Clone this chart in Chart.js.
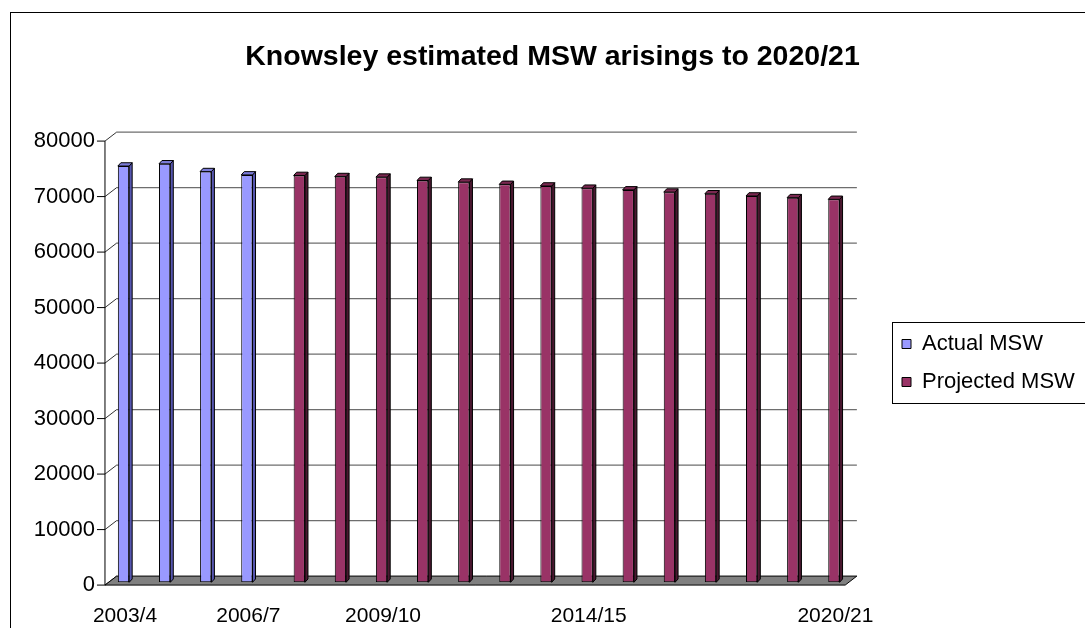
<!DOCTYPE html>
<html>
<head>
<meta charset="utf-8">
<script src="https://cdn.jsdelivr.net/npm/chart.js@4.4.0/dist/chart.umd.min.js"></script>
<style>
html,body{margin:0;padding:0;background:#fff;}
canvas{display:block;}
</style>
</head>
<body>
<canvas id="c" width="1085" height="628"></canvas>
<script>
// ---- data ----
const categories = ['2003/4','2004/5','2005/6','2006/7','2007/8','2008/9','2009/10','2010/11','2011/12',
  '2012/13','2013/14','2014/15','2015/16','2016/17','2017/18','2018/19','2019/20','2020/21'];
const shownLabels = ['2003/4','2006/7','2009/10','2014/15','2020/21'];
const actualMSW = [75000, 75400, 74000, 73400, null, null, null, null, null,
  null, null, null, null, null, null, null, null, null];
const projectedMSW = [null, null, null, null, 73300, 73100, 73000, 72400, 72100,
  71700, 71400, 71000, 70700, 70300, 70000, 69600, 69300, 69000];
const yTickValues = [0, 10000, 20000, 30000, 40000, 50000, 60000, 70000, 80000];
const seriesNames = ['Actual MSW', 'Projected MSW'];
const titleText = 'Knowsley estimated MSW arisings to 2020/21';

// ---- styling ----
const FONT = "'Liberation Sans', Arial, sans-serif";
Chart.defaults.font.family = FONT;
Chart.defaults.color = '#000';

const DEPTH = {dx: 11.7, dy: -9};   // front plane -> back wall
const F = 0.31;                      // bar plane position inside depth
const BAR_D = {dx: 3, dy: -3.3};     // bar thickness
const FACE = [
  {side: '#5656b0', top: '#7b7bd8'},
  {side: '#4a1830', top: '#7a2850'}
];

const decor = {
  id: 'decor',
  beforeDraw(chart) {
    const ctx = chart.ctx;
    ctx.save();
    ctx.fillStyle = '#fff';
    ctx.fillRect(0, 0, chart.width, chart.height);
    ctx.strokeStyle = '#000';
    ctx.lineWidth = 1;
    ctx.strokeRect(10.5, 12.5, chart.width + 40, chart.height + 40);
    ctx.strokeRect(892.5, 322.5, 300, 81);
    ctx.restore();
    // centre each category label on the bar that carries its value (as in the 3D original)
    const xs = chart.scales.x;
    const items = xs.getLabelItems(chart.chartArea);
    items.forEach((it, k) => {
      const idx = xs.ticks[k] ? xs.ticks[k].value : k;
      for (let d = 0; d < chart.data.datasets.length; d++) {
        if (chart.data.datasets[d].data[idx] != null) {
          const el = chart.getDatasetMeta(d).data[idx];
          if (el) it.options.translation[0] = el.x + BAR_D.dx / 2;
          break;
        }
      }
    });
  },
  afterLayout(chart) {
    const t = chart.titleBlock;
    if (t) { t.left = 20; t.right = 1085; }
    const lg = chart.legend;
    if (lg) { lg.left = 886; lg.right = 1085; lg.top = 317; lg.bottom = 420; lg.width = 199; lg.height = 103; }
  },
  beforeDatasetsDraw(chart) {
    const {ctx, chartArea: a, scales: {y}} = chart;
    const fx = -F * DEPTH.dx, fy = -F * DEPTH.dy;
    const bx = (1 - F) * DEPTH.dx, by = (1 - F) * DEPTH.dy;
    const L = a.left, R = a.right;
    const y0 = y.getPixelForValue(0);
    ctx.save();
    ctx.lineWidth = 1;
    yTickValues.forEach(v => {
      const py = y.getPixelForValue(v);
      if (v > 0) {
        ctx.strokeStyle = '#6e6e6e';
        ctx.lineWidth = 1.3;
        ctx.beginPath();
        ctx.moveTo(L + bx, py + by);
        ctx.lineTo(R + bx, py + by);
        ctx.stroke();
        ctx.lineWidth = 1;
      }
      ctx.strokeStyle = '#333';
      ctx.beginPath();
      ctx.moveTo(L + fx, py + fy);
      ctx.lineTo(L + bx, py + by);
      ctx.stroke();
      ctx.strokeStyle = '#000';
      ctx.beginPath();
      ctx.moveTo(L + fx - 8, py + fy);
      ctx.lineTo(L + fx, py + fy);
      ctx.stroke();
    });
    // floor
    ctx.beginPath();
    ctx.moveTo(L + fx, y0 + fy);
    ctx.lineTo(R + fx, y0 + fy);
    ctx.lineTo(R + bx, y0 + by);
    ctx.lineTo(L + bx, y0 + by);
    ctx.closePath();
    ctx.fillStyle = '#808080';
    ctx.fill();
    ctx.strokeStyle = '#000';
    ctx.stroke();
    // front value axis
    ctx.beginPath();
    ctx.moveTo(L + fx, y.getPixelForValue(yTickValues[yTickValues.length - 1]) + fy);
    ctx.lineTo(L + fx, y0 + fy);
    ctx.stroke();
    ctx.restore();
  },
  afterDatasetsDraw(chart) {
    const ctx = chart.ctx;
    ctx.save();
    ctx.lineWidth = 1;
    ctx.strokeStyle = '#000';
    chart.data.datasets.forEach((ds, i) => {
      const meta = chart.getDatasetMeta(i);
      meta.data.forEach((bar, j) => {
        if (ds.data[j] == null) return;
        const p = bar.getProps(['x', 'y', 'base', 'width'], true);
        const l = p.x - p.width / 2, r = p.x + p.width / 2;
        ctx.fillStyle = FACE[i].side;
        ctx.beginPath();
        ctx.moveTo(r, p.y);
        ctx.lineTo(r + BAR_D.dx, p.y + BAR_D.dy);
        ctx.lineTo(r + BAR_D.dx, p.base + BAR_D.dy);
        ctx.lineTo(r, p.base);
        ctx.closePath();
        ctx.fill(); ctx.stroke();
        ctx.fillStyle = FACE[i].top;
        ctx.beginPath();
        ctx.moveTo(l, p.y);
        ctx.lineTo(l + BAR_D.dx, p.y + BAR_D.dy);
        ctx.lineTo(r + BAR_D.dx, p.y + BAR_D.dy);
        ctx.lineTo(r, p.y);
        ctx.closePath();
        ctx.fill(); ctx.stroke();
      });
    });
    ctx.restore();
  }
};

new Chart(document.getElementById('c'), {
  type: 'bar',
  data: {
    labels: categories,
    datasets: [
      {label: seriesNames[0], data: actualMSW, backgroundColor: '#9999ff', borderColor: '#000', borderWidth: 1, borderSkipped: false},
      {label: seriesNames[1], data: projectedMSW, backgroundColor: '#993366', borderColor: '#000', borderWidth: 1, borderSkipped: false}
    ]
  },
  options: {
    responsive: false,
    animation: false,
    events: [],
    categoryPercentage: 0.55,
    barPercentage: 1.0,
    layout: {padding: {left: 0, right: 236.2, top: 0, bottom: 0}},
    scales: {
      x: {
        grid: {display: false, drawTicks: false},
        border: {display: false},
        ticks: {
          autoSkip: false, maxRotation: 0, minRotation: 0, padding: 21,
          font: {size: 21},
          callback: function (v) { const s = categories[v]; return shownLabels.includes(s) ? s : ''; }
        },
        afterFit(scale) { scale.height = 45.7; }
      },
      y: {
        min: yTickValues[0], max: yTickValues[yTickValues.length - 1],
        grid: {display: false, drawTicks: false},
        border: {display: false},
        ticks: {
          stepSize: 10000, padding: 13.6, labelOffset: 2.8, font: {size: 22},
          callback: function (v) { return String(v); }
        },
        afterFit(scale) { scale.width = 108.6; }
      }
    },
    plugins: {
      title: {
        display: true, text: titleText, color: '#000',
        font: {size: 28.5, weight: 'bold', lineHeight: 1.2},
        padding: {top: 39.9, bottom: 64.2}
      },
      legend: {
        position: 'chartArea', align: 'start',
        labels: {boxWidth: 9, boxHeight: 9, padding: 16, font: {size: 22}, color: '#000', textAlign: 'left'}
      },
      tooltip: {enabled: false}
    }
  },
  plugins: [decor]
});
</script>
</body>
</html>
